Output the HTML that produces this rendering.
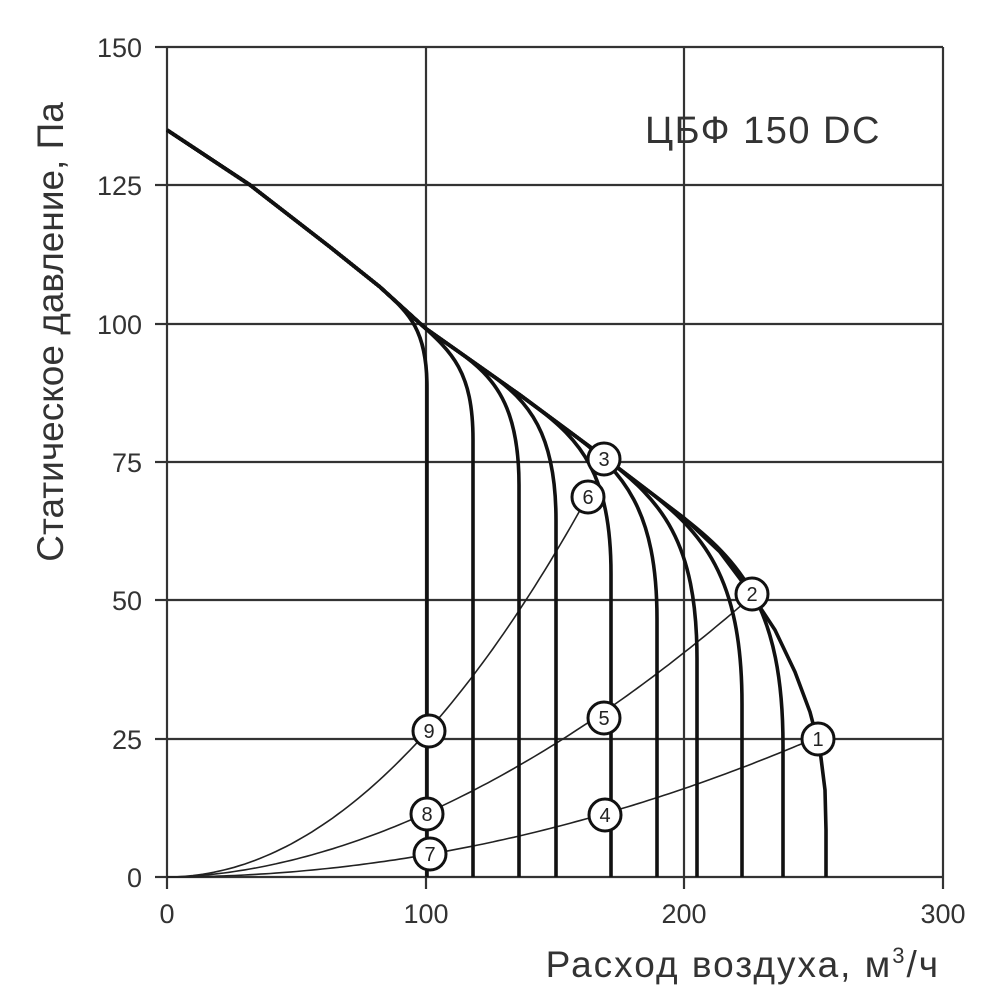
<!DOCTYPE html>
<html><head><meta charset="utf-8"><style>
html,body{margin:0;padding:0;background:#fff;}
svg{display:block;font-family:"Liberation Sans",sans-serif;}
</style></head><body>
<svg id="s" width="1000" height="1000" viewBox="0 0 1000 1000" xmlns="http://www.w3.org/2000/svg">
<g stroke="#333" stroke-width="2.2" fill="none">
<line x1="167" y1="47" x2="943" y2="47"/>
<line x1="167" y1="185" x2="943" y2="185"/>
<line x1="167" y1="324" x2="943" y2="324"/>
<line x1="167" y1="462" x2="943" y2="462"/>
<line x1="167" y1="600" x2="943" y2="600"/>
<line x1="167" y1="739" x2="943" y2="739"/>
<line x1="167" y1="877" x2="943" y2="877"/>
<line x1="167" y1="47" x2="167" y2="877"/>
<line x1="426" y1="47" x2="426" y2="877"/>
<line x1="684" y1="47" x2="684" y2="877"/>
<line x1="943" y1="47" x2="943" y2="877"/>
<line x1="155" y1="47" x2="167" y2="47"/><line x1="155" y1="185" x2="167" y2="185"/><line x1="155" y1="324" x2="167" y2="324"/><line x1="155" y1="462" x2="167" y2="462"/><line x1="155" y1="600" x2="167" y2="600"/><line x1="155" y1="739" x2="167" y2="739"/><line x1="155" y1="877" x2="167" y2="877"/>
<line x1="167" y1="877" x2="167" y2="889"/><line x1="426" y1="877" x2="426" y2="889"/><line x1="684" y1="877" x2="684" y2="889"/><line x1="943" y1="877" x2="943" y2="889"/>
</g>
<g font-size="27" fill="#333" text-anchor="end">
<text x="142" y="57">150</text><text x="142" y="195">125</text><text x="142" y="334">100</text><text x="142" y="472">75</text><text x="142" y="610">50</text><text x="142" y="749">25</text><text x="142" y="887">0</text>
</g>
<g font-size="27" fill="#333" text-anchor="middle">
<text x="167" y="923">0</text><text x="426" y="923">100</text><text x="684" y="923">200</text><text x="943" y="923">300</text>
</g>
<text x="940" y="977" font-size="37" fill="#333" text-anchor="end" letter-spacing="2">Расход воздуха, м<tspan font-size="22" dy="-14">3</tspan><tspan dy="14">/ч</tspan></text>
<text transform="translate(63,332) rotate(-90)" font-size="37" fill="#333" text-anchor="middle">Статическое давление, Па</text>
<text x="645" y="143" font-size="38" fill="#333" letter-spacing="1.5">ЦБФ 150 DC</text>
<g id="thin" stroke="#222" stroke-width="1.6" fill="none"></g>
<g id="thick" stroke="#111" stroke-width="3.6" fill="none"></g>
<g id="mk"></g>
</svg>
<script>
var X=function(v){return 167+v*2.587;},Y=function(v){return 877-v*5.533;};
var main=[[167,130],[250,185],[330,247],[380,287],[425,328],[520,395],[605,458],[684,518],[720,552],[750,592],[775,630],[795,672],[810,712],[820,750],[825,790],[826,830],[826,877]];
function my(x){for(var i=0;i<main.length-1;i++){var a=main[i],b=main[i+1];if(x>=a[0]&&x<=b[0]){return a[1]+(b[1]-a[1])*(x-a[0])/(b[0]-a[0]);}}return main[main.length-1][1];}
var th=document.getElementById('thick'),tn=document.getElementById('thin'),ns="http://www.w3.org/2000/svg";
function P(g,d){var p=document.createElementNS(ns,'path');p.setAttribute('d',d);g.appendChild(p);}
var d="M"+main.map(function(p){return p.join(',')}).join(' L');P(th,d);
[427,473,519,556,611,657,697,742,783].forEach(function(xe){
 var dd=45+(xe-427)*0.17,xb=xe-dd,yb=my(xb),s=(my(xb+5)-yb)/5;
 var s2="M167,130";main.forEach(function(p){if(p[0]<xb)s2+=" L"+p[0]+","+p[1];});
 s2+=" L"+xb+","+yb+" C"+(xb+0.6*dd)+","+(yb+0.6*dd*s)+" "+xe+","+(yb+dd*0.9)+" "+xe+","+(yb+dd*2.2)+" L"+xe+",877";
 P(th,s2);});
function par(k,p,xmax){var s="M167,877";for(var v=2;v<=xmax;v+=2){s+=" L"+X(v).toFixed(1)+","+Y(k*Math.pow(v,p)).toFixed(1);}P(tn,s);}
par(0.0026,2,163);par(11.5/Math.pow(100,1.82),1.82,226);par(0.0004,2,253);
var mk=[[1,818,739],[2,752,594],[3,604,459],[4,605,815],[5,604,718],[6,588,497],[7,430,854],[8,427,814],[9,429,731]];
var g=document.getElementById('mk');
mk.forEach(function(m){var c=document.createElementNS(ns,'circle');c.setAttribute('cx',m[1]);c.setAttribute('cy',m[2]);c.setAttribute('r',16);c.setAttribute('fill','#fff');c.setAttribute('stroke','#111');c.setAttribute('stroke-width','3');g.appendChild(c);
var t=document.createElementNS(ns,'text');t.setAttribute('x',m[1]);t.setAttribute('y',m[2]+7);t.setAttribute('font-size','20');t.setAttribute('text-anchor','middle');t.setAttribute('fill','#222');t.textContent=m[0];g.appendChild(t);});
</script>
</body></html>
